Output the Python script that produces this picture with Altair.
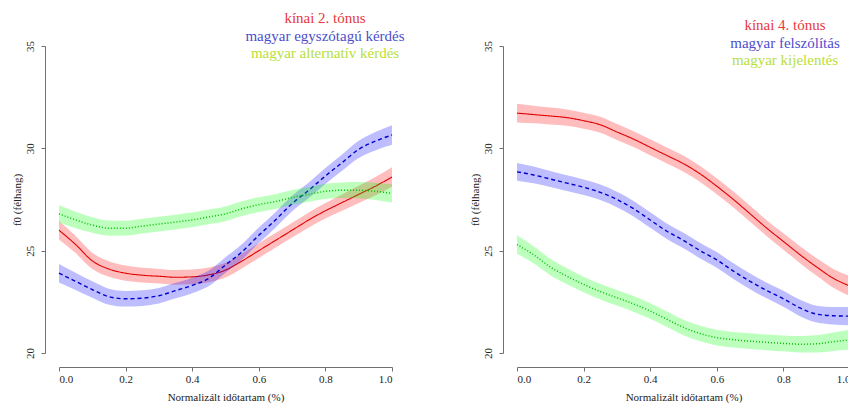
import altair as alt
import pandas as pd

# normalized time points
x_pts = [0.0, 0.05, 0.1, 0.15, 0.2, 0.25, 0.3, 0.35, 0.4, 0.45, 0.5,
         0.55, 0.6, 0.65, 0.7, 0.75, 0.8, 0.85, 0.9, 0.95, 1.0]

# ---- left panel ----
left_labels = ["kínai 2. tónus", "magyar egyszótagú kérdés", "magyar alternatív kérdés"]
left_red = [26.0, 25.3, 24.5, 24.1, 23.9, 23.8, 23.75, 23.7, 23.72, 23.82, 24.05,
            24.5, 25.0, 25.5, 26.0, 26.5, 26.95, 27.35, 27.75, 28.15, 28.6]
left_red_se = [0.45, 0.42, 0.4, 0.38, 0.37, 0.36, 0.36, 0.36, 0.36, 0.36, 0.36,
               0.36, 0.36, 0.36, 0.36, 0.37, 0.38, 0.4, 0.42, 0.45, 0.48]
left_blue = [23.9, 23.5, 23.1, 22.75, 22.65, 22.68, 22.8, 23.05, 23.3, 23.65, 24.3,
             24.95, 25.75, 26.5, 27.3, 27.95, 28.65, 29.3, 29.95, 30.35, 30.65]
left_blue_se = [0.45, 0.42, 0.4, 0.39, 0.38, 0.38, 0.38, 0.38, 0.38, 0.38, 0.38,
                0.38, 0.38, 0.38, 0.38, 0.38, 0.39, 0.4, 0.42, 0.45, 0.48]
left_green = [26.8, 26.5, 26.25, 26.1, 26.1, 26.2, 26.3, 26.4, 26.5, 26.65, 26.8,
              27.05, 27.25, 27.4, 27.6, 27.75, 27.9, 27.95, 27.95, 27.9, 27.8]
left_green_se = [0.42, 0.4, 0.38, 0.37, 0.36, 0.36, 0.36, 0.36, 0.36, 0.36, 0.36,
                 0.36, 0.36, 0.36, 0.36, 0.36, 0.37, 0.38, 0.4, 0.42, 0.45]

# ---- right panel ----
right_labels = ["kínai 4. tónus", "magyar felszólítás", "magyar kijelentés"]
right_red = [31.72, 31.65, 31.58, 31.5, 31.35, 31.15, 30.8, 30.45, 30.05, 29.65, 29.25,
             28.75, 28.15, 27.5, 26.8, 26.1, 25.45, 24.8, 24.2, 23.65, 23.27]
right_red_se = [0.46, 0.43, 0.41, 0.4, 0.39, 0.39, 0.39, 0.39, 0.39, 0.39, 0.39,
                0.39, 0.39, 0.39, 0.39, 0.39, 0.4, 0.41, 0.43, 0.46, 0.49]
right_blue = [28.85, 28.7, 28.5, 28.3, 28.1, 27.85, 27.5, 27.05, 26.5, 25.95, 25.5,
              25.0, 24.55, 24.0, 23.5, 23.05, 22.65, 22.2, 21.9, 21.82, 21.8]
right_blue_se = [0.43, 0.41, 0.39, 0.38, 0.38, 0.38, 0.38, 0.38, 0.38, 0.38, 0.38,
                 0.38, 0.38, 0.38, 0.38, 0.38, 0.39, 0.4, 0.41, 0.43, 0.45]
right_green = [25.3, 24.8, 24.2, 23.75, 23.35, 23.0, 22.7, 22.4, 22.05, 21.65, 21.25,
               20.95, 20.75, 20.65, 20.58, 20.52, 20.47, 20.43, 20.45, 20.55, 20.65]
right_green_se = [0.45, 0.42, 0.4, 0.39, 0.38, 0.38, 0.38, 0.38, 0.38, 0.38, 0.38,
                  0.38, 0.38, 0.38, 0.38, 0.38, 0.39, 0.4, 0.42, 0.45, 0.49]

x_ticks = [0.0, 0.2, 0.4, 0.6, 0.8, 1.0]
y_ticks = [20, 25, 30, 35]

line_colors = ["#e00000", "#0000cc", "#00c000"]
band_colors = ["#ff0000", "#0000ff", "#00ff00"]
text_colors = ["#e8383d", "#4d4dcc", "#b8e03a"]
dashes = [[1, 0], [4, 3], [1, 2]]
widths = [1.1, 1.4, 1.5]

FONT = "'Liberation Serif', 'Times New Roman', serif"

xscale = alt.Scale(domain=[0, 1], nice=False, zero=False)
yscale = alt.Scale(domain=[20, 35], nice=False, zero=False)

xaxis = alt.Axis(values=x_ticks, format=".1f", offset=14, grid=False,
                 domainColor="#707070", tickColor="#707070", tickSize=4,
                 labelFont=FONT, labelFontSize=11, labelColor="#222222",
                 labelPadding=2, title="Normalizált időtartam (%)",
                 titleFont=FONT, titleFontSize=11, titleFontWeight="normal",
                 titleColor="#222222", titlePadding=7)
yaxis = alt.Axis(values=y_ticks, format="d", offset=14, grid=False,
                 domainColor="#707070", tickColor="#707070", tickSize=4,
                 labelFont=FONT, labelFontSize=11, labelColor="#222222",
                 labelAngle=270, labelAlign="center", labelBaseline="bottom",
                 labelPadding=6, title="f0 (félhang)",
                 titleFont=FONT, titleFontSize=11, titleFontWeight="normal",
                 titleColor="#222222", titlePadding=2)


def panel(series, ses, labels, text_x, text_y0):
    layers = []
    for i, (ys, se) in enumerate(zip(series, ses)):
        df = pd.DataFrame({
            "x": x_pts,
            "y": ys,
            "lo": [a - b for a, b in zip(ys, se)],
            "hi": [a + b for a, b in zip(ys, se)],
        })
        area = alt.Chart(df).mark_area(
            color=band_colors[i], opacity=0.26, interpolate="monotone"
        ).encode(
            x=alt.X("x:Q", scale=xscale, axis=xaxis),
            y=alt.Y("lo:Q", scale=yscale, axis=yaxis),
            y2="hi:Q",
        )
        line = alt.Chart(df).mark_line(
            color=line_colors[i], strokeWidth=widths[i], strokeDash=dashes[i],
            interpolate="monotone"
        ).encode(
            x=alt.X("x:Q", scale=xscale),
            y=alt.Y("y:Q", scale=yscale),
        )
        layers += [area, line]
    for i, lab in enumerate(labels):
        t = alt.Chart(pd.DataFrame({"t": [lab]})).mark_text(
            font=FONT, fontSize=15, color=text_colors[i], align="center",
            baseline="middle"
        ).encode(
            text="t:N",
            x=alt.value(text_x),
            y=alt.value(text_y0 + 17.5 * i),
        )
        layers.append(t)
    return alt.layer(*layers).properties(width=333, height=307)


left = panel([left_red, left_blue, left_green],
             [left_red_se, left_blue_se, left_green_se],
             left_labels, 266, -28)
right = panel([right_red, right_blue, right_green],
              [right_red_se, right_blue_se, right_green_se],
              right_labels, 268, -21)

chart = alt.hconcat(left, right, spacing=125, bounds="flush").properties(
    autosize=alt.AutoSizeParams(type="none"),
    padding={"left": 51, "top": 38, "right": 789, "bottom": 350},
    background="white",
).configure_view(stroke=None)

chart.save("out.html", embed_options={"renderer": "svg", "actions": False})
